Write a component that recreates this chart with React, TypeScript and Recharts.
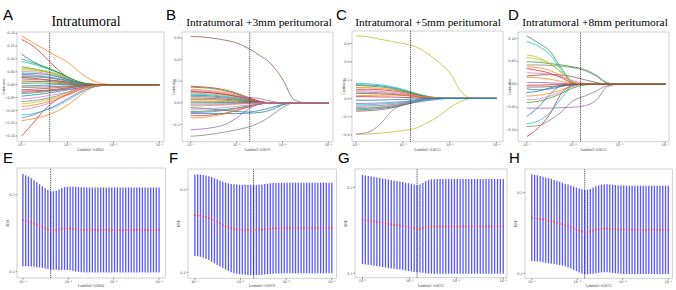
import React from "react";
import {
  LineChart,
  Line,
  ScatterChart,
  Scatter,
  ErrorBar,
  XAxis,
  YAxis,
  ReferenceLine,
  ReferenceArea,
} from "recharts";

// log10(lambda) grids
const PATH_LOG_LAMBDA = [-4, -3.75, -3.5, -3.25, -3, -2.75, -2.5, -2.25, -2, -1.75, -1.5, -1.25, -1];
const CV_LOG_LAMBDA = [
  -4.0, -3.939, -3.878, -3.816, -3.755, -3.694, -3.633, -3.571, -3.51, -3.449,
  -3.388, -3.327, -3.265, -3.204, -3.143, -3.082, -3.02, -2.959, -2.898, -2.837,
  -2.776, -2.714, -2.653, -2.592, -2.531, -2.469, -2.408, -2.347, -2.286, -2.224,
  -2.163, -2.102, -2.041, -1.98, -1.918, -1.857, -1.796, -1.735, -1.673, -1.612,
  -1.551, -1.49, -1.429, -1.367, -1.306, -1.245, -1.184, -1.122, -1.061, -1.0,
];
const DECADE_TICKS = [-4, -3, -2, -1];
const DECADE_LABELS = ["10⁻⁴", "10⁻³", "10⁻²", "10⁻¹"];

const LETTERS = ["A", "B", "C", "D", "E", "F", "G", "H"];
const TITLES = [
  "Intratumoral",
  "Intratumoral +3mm peritumoral",
  "Intratumoral +5mm peritumoral",
  "Intratumoral +8mm peritumoral",
];
const OPT_LOG_LAMBDA = [-3.388, -2.714, -2.837, -2.837];
const OPT_LABELS = ["Lambda(λ=0.0004)", "Lambda(λ=0.0019)", "Lambda(λ=0.0015)", "Lambda(λ=0.0015)"];

const TICKS_A = [-0.2, -0.15, -0.1, -0.05, 0, 0.05, 0.1, 0.15, 0.2];
const TICKS_B = [-0.2, 0, 0.2, 0.4, 0.6];
const TICKS_C = [-0.4, -0.2, 0, 0.2, 0.4, 0.6];
const TICKS_D = [-0.1, -0.05, 0, 0.05, 0.1];
const TICKS_MSE = [0.1, 0.2];

// coefficient paths, one row per feature, values at PATH_LOG_LAMBDA
const PATHS_A = [
  [0.119, 0.09, 0.068, 0.05, 0.025, 0.006, 0, 0, 0, 0, 0, 0, 0],
  [0.19, 0.163, 0.138, 0.112, 0.088, 0.05, 0.02, 0.004, 0, 0, 0, 0, 0],
  [0.07, 0.062, 0.052, 0.04, 0.022, 0.008, 0.001, 0, 0, 0, 0, 0, 0],
  [0.176, 0.15, 0.11, 0.065, 0.03, 0.01, 0.002, 0, 0, 0, 0, 0, 0],
  [0.04, 0.038, 0.032, 0.025, 0.016, 0.006, 0.001, 0, 0, 0, 0, 0, 0],
  [0.03, 0.03, 0.028, 0.022, 0.015, 0.006, 0, 0, 0, 0, 0, 0, 0],
  [0.052, 0.05, 0.045, 0.035, 0.02, 0.008, 0, 0, 0, 0, 0, 0, 0],
  [0.022, 0.02, 0.018, 0.014, 0.01, 0.004, 0, 0, 0, 0, 0, 0, 0],
  [0.063, 0.06, 0.055, 0.045, 0.028, 0.01, 0.002, 0, 0, 0, 0, 0, 0],
  [0.09, 0.08, 0.066, 0.052, 0.03, 0.01, 0.001, 0, 0, 0, 0, 0, 0],
  [-0.005, -0.004, -0.002, 0, 0.001, 0, 0, 0, 0, 0, 0, 0, 0],
  [-0.14, -0.133, -0.122, -0.105, -0.08, -0.045, -0.015, -0.002, 0, 0, 0, 0, 0],
  [-0.035, -0.032, -0.028, -0.022, -0.015, -0.008, -0.003, 0, 0, 0, 0, 0, 0],
  [-0.2, -0.15, -0.098, -0.06, -0.04, -0.022, -0.006, 0, 0, 0, 0, 0, 0],
  [-0.13, -0.118, -0.1, -0.08, -0.055, -0.03, -0.012, -0.003, 0, 0, 0, 0, 0],
  [-0.02, -0.018, -0.015, -0.012, -0.008, -0.004, -0.001, 0, 0, 0, 0, 0, 0],
  [-0.098, -0.09, -0.078, -0.06, -0.035, -0.015, -0.004, 0, 0, 0, 0, 0, 0],
  [-0.066, -0.062, -0.055, -0.045, -0.03, -0.015, -0.004, 0, 0, 0, 0, 0, 0],
  [0.058, 0.056, 0.05, 0.04, 0.025, 0.01, 0.002, 0, 0, 0, 0, 0, 0],
  [-0.118, -0.113, -0.1, -0.085, -0.06, -0.035, -0.01, 0, 0, 0, 0, 0, 0],
  [-0.045, -0.04, -0.035, -0.028, -0.02, -0.012, -0.006, -0.003, 0, 0, 0, 0, 0],
  [0.015, 0.014, 0.012, 0.01, 0.006, 0.002, 0, 0, 0, 0, 0, 0, 0],
  [0.005, 0.006, 0.006, 0.005, 0.003, 0.001, 0, 0, 0, 0, 0, 0, 0],
  [0.028, 0.025, 0.02, 0.016, 0.01, 0.004, 0.001, 0, 0, 0, 0, 0, 0],
  [-0.03, -0.028, -0.025, -0.022, -0.018, -0.014, -0.01, -0.004, 0, 0, 0, 0, 0],
  [-0.01, -0.01, -0.009, -0.007, -0.005, -0.002, 0, 0, 0, 0, 0, 0, 0],
  [-0.055, -0.052, -0.045, -0.038, -0.028, -0.015, -0.005, 0, 0, 0, 0, 0, 0],
  [0.01, 0.012, 0.012, 0.01, 0.006, 0.002, 0, 0, 0, 0, 0, 0, 0],
  [-0.075, -0.07, -0.062, -0.05, -0.035, -0.02, -0.008, -0.002, 0, 0, 0, 0, 0],
  [0.035, 0.034, 0.03, 0.024, 0.015, 0.006, 0.001, 0, 0, 0, 0, 0, 0],
  [0.045, 0.044, 0.04, 0.032, 0.02, 0.008, 0.001, 0, 0, 0, 0, 0, 0],
  [-0.085, -0.08, -0.07, -0.056, -0.038, -0.02, -0.006, 0, 0, 0, 0, 0, 0],
  [0.1, 0.085, 0.07, 0.052, 0.03, 0.012, 0.002, 0, 0, 0, 0, 0, 0],
  [-0.025, -0.024, -0.022, -0.018, -0.012, -0.006, -0.002, 0, 0, 0, 0, 0, 0],
];

const PATHS_B = [
  [0.07, 0.068, 0.062, 0.052, 0.038, 0.02, 0.004, 0, 0, 0, 0, 0, 0],
  [0.125, 0.12, 0.11, 0.095, 0.07, 0.04, 0.01, 0, 0, 0, 0, 0, 0],
  [0.145, 0.14, 0.13, 0.11, 0.08, 0.045, 0.012, 0, 0, 0, 0, 0, 0],
  [0.154, 0.148, 0.138, 0.12, 0.09, 0.05, 0.015, 0, 0, 0, 0, 0, 0],
  [0.1, 0.098, 0.09, 0.078, 0.06, 0.05, 0.04, 0.015, 0, 0, 0, 0, 0],
  [0.615, 0.61, 0.598, 0.58, 0.555, 0.505, 0.44, 0.36, 0.22, 0.03, 0, 0, 0],
  [0.115, 0.11, 0.1, 0.085, 0.062, 0.035, 0.01, 0, 0, 0, 0, 0, 0],
  [-0.31, -0.302, -0.288, -0.27, -0.25, -0.225, -0.185, -0.12, -0.045, 0, 0, 0, 0],
  [0.09, 0.087, 0.08, 0.068, 0.05, 0.028, 0.008, 0, 0, 0, 0, 0, 0],
  [0.08, 0.078, 0.07, 0.06, 0.045, 0.025, 0.006, 0, 0, 0, 0, 0, 0],
  [-0.045, -0.05, -0.06, -0.07, -0.08, -0.085, -0.07, -0.045, -0.015, 0, 0, 0, 0],
  [0.015, 0.015, 0.014, 0.012, 0.009, 0.005, 0.001, 0, 0, 0, 0, 0, 0],
  [-0.08, -0.078, -0.072, -0.062, -0.048, -0.03, -0.01, 0, 0, 0, 0, 0, 0],
  [0.045, 0.044, 0.04, 0.034, 0.025, 0.014, 0.003, 0, 0, 0, 0, 0, 0],
  [-0.25, -0.242, -0.228, -0.2, -0.14, -0.06, -0.01, 0, 0, 0, 0, 0, 0],
  [-0.12, -0.118, -0.11, -0.095, -0.07, -0.04, -0.012, 0, 0, 0, 0, 0, 0],
  [-0.06, -0.058, -0.052, -0.044, -0.033, -0.02, -0.006, 0, 0, 0, 0, 0, 0],
  [0.06, 0.058, 0.052, 0.044, 0.032, 0.018, 0.004, 0, 0, 0, 0, 0, 0],
  [-0.03, -0.028, -0.025, -0.02, -0.012, -0.004, 0, 0, 0, 0, 0, 0, 0],
  [-0.01, -0.01, -0.009, -0.008, -0.006, -0.003, -0.001, 0, 0, 0, 0, 0, 0],
  [-0.1, -0.1, -0.1, -0.1, -0.1, -0.095, -0.09, -0.065, -0.02, 0, 0, 0, 0],
  [-0.14, -0.135, -0.122, -0.1, -0.072, -0.04, -0.012, 0, 0, 0, 0, 0, 0],
  [0.03, 0.03, 0.028, 0.023, 0.017, 0.01, 0.002, 0, 0, 0, 0, 0, 0],
  [0.105, 0.1, 0.092, 0.078, 0.058, 0.032, 0.009, 0, 0, 0, 0, 0, 0],
  [-0.09, -0.088, -0.082, -0.07, -0.055, -0.034, -0.012, 0, 0, 0, 0, 0, 0],
  [0.005, 0.005, 0.004, 0.003, 0.002, 0.001, 0, 0, 0, 0, 0, 0, 0],
  [-0.02, -0.02, -0.018, -0.015, -0.01, -0.005, -0.001, 0, 0, 0, 0, 0, 0],
];

const PATHS_C = [
  [0.15, 0.146, 0.138, 0.12, 0.09, 0.055, 0.022, 0.004, 0, 0, 0, 0, 0],
  [0.12, 0.118, 0.11, 0.097, 0.075, 0.05, 0.025, 0.008, 0, 0, 0, 0, 0],
  [0.14, 0.136, 0.127, 0.11, 0.083, 0.05, 0.02, 0.003, 0, 0, 0, 0, 0],
  [0.1, 0.1, 0.095, 0.085, 0.065, 0.04, 0.015, 0.002, 0, 0, 0, 0, 0],
  [-0.39, -0.37, -0.29, -0.145, -0.062, -0.02, -0.005, 0, 0, 0, 0, 0, 0],
  [0.055, 0.054, 0.05, 0.044, 0.034, 0.021, 0.008, 0, 0, 0, 0, 0, 0],
  [0.085, 0.083, 0.078, 0.068, 0.052, 0.032, 0.012, 0.002, 0, 0, 0, 0, 0],
  [0.07, 0.068, 0.063, 0.055, 0.042, 0.026, 0.01, 0.001, 0, 0, 0, 0, 0],
  [0.684, 0.675, 0.648, 0.624, 0.6, 0.57, 0.5, 0.4, 0.28, 0.07, 0, 0, 0],
  [0.165, 0.16, 0.15, 0.13, 0.1, 0.06, 0.025, 0.005, 0, 0, 0, 0, 0],
  [-0.127, -0.12, -0.11, -0.095, -0.07, -0.045, -0.025, -0.01, 0, 0, 0, 0, 0],
  [0.03, 0.032, 0.035, 0.036, 0.034, 0.028, 0.016, 0.005, 0, 0, 0, 0, 0],
  [-0.11, -0.108, -0.1, -0.085, -0.062, -0.036, -0.012, 0, 0, 0, 0, 0, 0],
  [0.02, 0.019, 0.017, 0.015, 0.011, 0.007, 0.002, 0, 0, 0, 0, 0, 0],
  [-0.055, -0.054, -0.05, -0.044, -0.034, -0.021, -0.008, 0, 0, 0, 0, 0, 0],
  [-0.14, -0.135, -0.125, -0.105, -0.075, -0.04, -0.012, 0, 0, 0, 0, 0, 0],
  [-0.1, -0.098, -0.092, -0.08, -0.06, -0.036, -0.014, -0.002, 0, 0, 0, 0, 0],
  [-0.085, -0.083, -0.078, -0.068, -0.052, -0.032, -0.012, 0, 0, 0, 0, 0, 0],
  [-0.393, -0.39, -0.38, -0.368, -0.35, -0.33, -0.27, -0.2, -0.1, -0.03, 0, 0, 0],
  [-0.07, -0.068, -0.063, -0.055, -0.042, -0.026, -0.01, -0.002, 0, 0, 0, 0, 0],
  [-0.02, -0.02, -0.018, -0.015, -0.011, -0.007, -0.002, 0, 0, 0, 0, 0, 0],
];

const PATHS_D = [
  [-0.07, -0.05, -0.022, -0.003, 0, 0, 0, 0, 0, 0, 0, 0, 0],
  [0.038, 0.036, 0.03, 0.018, 0.003, 0, 0, 0, 0, 0, 0, 0, 0],
  [0.105, 0.09, 0.072, 0.035, 0.005, 0, 0, 0, 0, 0, 0, 0, 0],
  [-0.114, -0.095, -0.065, -0.02, -0.002, 0, 0, 0, 0, 0, 0, 0, 0],
  [-0.052, -0.052, -0.052, -0.051, -0.05, -0.047, -0.035, -0.005, 0, 0, 0, 0, 0],
  [0.018, 0.02, 0.021, 0.02, 0.016, 0.01, 0.004, 0, 0, 0, 0, 0, 0],
  [0.025, 0.024, 0.022, 0.016, 0.008, 0.002, 0, 0, 0, 0, 0, 0, 0],
  [-0.092, -0.09, -0.078, -0.06, -0.036, -0.026, -0.015, -0.003, 0, 0, 0, 0, 0],
  [0.064, 0.058, 0.045, 0.025, 0.004, 0, 0, 0, 0, 0, 0, 0, 0],
  [0.093, 0.083, 0.065, 0.03, 0.003, 0, 0, 0, 0, 0, 0, 0, 0],
  [-0.018, -0.015, -0.008, -0.002, 0, 0, 0, 0, 0, 0, 0, 0, 0],
  [-0.026, -0.024, -0.02, -0.012, -0.004, 0, 0, 0, 0, 0, 0, 0, 0],
  [0.049, 0.048, 0.045, 0.042, 0.038, 0.032, 0.02, 0.003, 0, 0, 0, 0, 0],
  [0.034, 0.03, 0.024, 0.014, 0.002, 0, 0, 0, 0, 0, 0, 0, 0],
  [0.004, 0.004, 0.003, 0.002, 0, 0, 0, 0, 0, 0, 0, 0, 0],
  [-0.006, -0.006, -0.005, -0.003, -0.001, 0, 0, 0, 0, 0, 0, 0, 0],
  [-0.034, -0.032, -0.026, -0.016, -0.004, 0, 0, 0, 0, 0, 0, 0, 0],
  [0.042, 0.042, 0.041, 0.039, 0.036, 0.03, 0.018, 0.002, 0, 0, 0, 0, 0],
  [0.058, 0.054, 0.044, 0.026, 0.006, 0, 0, 0, 0, 0, 0, 0, 0],
  [-0.086, -0.08, -0.062, -0.03, -0.003, 0, 0, 0, 0, 0, 0, 0, 0],
  [-0.01, -0.012, -0.01, -0.005, -0.001, 0, 0, 0, 0, 0, 0, 0, 0],
  [0.015, 0.014, 0.011, 0.006, 0.001, 0, 0, 0, 0, 0, 0, 0, 0],
  [-0.04, -0.037, -0.03, -0.02, -0.008, -0.002, 0, 0, 0, 0, 0, 0, 0],
  [-0.002, -0.002, -0.001, 0, 0, 0, 0, 0, 0, 0, 0, 0, 0],
];

// cross-validated MSE (mean and std) at CV_LOG_LAMBDA
const MSE_E = [
  0.1669, 0.1662, 0.1652, 0.164, 0.1626, 0.1611, 0.1596, 0.158, 0.1563, 0.1548,
  0.1535, 0.1536, 0.1538, 0.1545, 0.1555, 0.1562, 0.1563, 0.1561, 0.1557, 0.1552,
  0.1548, 0.1545, 0.1544, 0.1543, 0.1543, 0.1543, 0.1543, 0.1543, 0.1543, 0.1543,
  0.1543, 0.1543, 0.1543, 0.1543, 0.1543, 0.1543, 0.1543, 0.1543, 0.1543, 0.1543,
  0.1543, 0.1543, 0.1543, 0.1543, 0.1543, 0.1543, 0.1543, 0.1543, 0.1543, 0.1543,
];
const STD_E = [
  0.06, 0.0592, 0.0583, 0.0573, 0.0563, 0.0552, 0.0541, 0.053, 0.052, 0.0512,
  0.0509, 0.0509, 0.0513, 0.0522, 0.0532, 0.0538, 0.054, 0.0542, 0.0545, 0.0548,
  0.055, 0.0551, 0.0552, 0.0552, 0.0552, 0.0552, 0.0552, 0.0552, 0.0552, 0.0552,
  0.0552, 0.0552, 0.0552, 0.0552, 0.0552, 0.0552, 0.0552, 0.0552, 0.0552, 0.0552,
  0.0552, 0.0552, 0.0552, 0.0552, 0.0552, 0.0552, 0.0552, 0.0552, 0.0552, 0.0552,
];
const MSE_F = [
  0.1688, 0.1686, 0.1682, 0.1676, 0.1666, 0.1653, 0.1638, 0.1622, 0.1605, 0.1588,
  0.1572, 0.1557, 0.1544, 0.1533, 0.1525, 0.152, 0.1516, 0.1514, 0.1512, 0.1511,
  0.151, 0.1509, 0.151, 0.1511, 0.1514, 0.1518, 0.1522, 0.1526, 0.1529, 0.1531,
  0.1532, 0.1533, 0.1534, 0.1534, 0.1534, 0.1534, 0.1534, 0.1534, 0.1534, 0.1534,
  0.1534, 0.1534, 0.1534, 0.1534, 0.1534, 0.1534, 0.1534, 0.1534, 0.1534, 0.1534,
];
const STD_F = [
  0.0492, 0.0493, 0.0495, 0.0498, 0.0502, 0.0506, 0.051, 0.0513, 0.0516, 0.0518,
  0.052, 0.0524, 0.0528, 0.0532, 0.0536, 0.0538, 0.0539, 0.054, 0.0541, 0.0542,
  0.0542, 0.0542, 0.0542, 0.0543, 0.0544, 0.0545, 0.0545, 0.0546, 0.0546, 0.0546,
  0.0546, 0.0546, 0.0546, 0.0546, 0.0546, 0.0546, 0.0546, 0.0546, 0.0546, 0.0546,
  0.0546, 0.0546, 0.0546, 0.0546, 0.0546, 0.0546, 0.0546, 0.0546, 0.0546, 0.0546,
];
const MSE_G = [
  0.1626, 0.1621, 0.1615, 0.161, 0.1604, 0.1598, 0.1593, 0.1587, 0.1582, 0.1576,
  0.1571, 0.1566, 0.156, 0.1555, 0.1549, 0.1543, 0.1537, 0.1531, 0.1525, 0.1519,
  0.1521, 0.1527, 0.1535, 0.1541, 0.1544, 0.1545, 0.1546, 0.1546, 0.1546, 0.1546,
  0.1546, 0.1546, 0.1546, 0.1546, 0.1546, 0.1546, 0.1546, 0.1546, 0.1546, 0.1546,
  0.1546, 0.1546, 0.1546, 0.1546, 0.1546, 0.1546, 0.1546, 0.1546, 0.1546, 0.1546,
];
const STD_G = [
  0.0517, 0.0517, 0.0516, 0.0516, 0.0516, 0.0515, 0.0515, 0.0515, 0.0514, 0.0514,
  0.0514, 0.0513, 0.0513, 0.0512, 0.0512, 0.0511, 0.0511, 0.051, 0.0509, 0.0508,
  0.0512, 0.0522, 0.0535, 0.0544, 0.0548, 0.055, 0.055, 0.055, 0.055, 0.055,
  0.055, 0.055, 0.055, 0.055, 0.055, 0.055, 0.055, 0.055, 0.055, 0.055,
  0.055, 0.055, 0.055, 0.055, 0.055, 0.055, 0.055, 0.055, 0.055, 0.055,
];
const MSE_H = [
  0.169, 0.1686, 0.1681, 0.1675, 0.1668, 0.1661, 0.1653, 0.1645, 0.1637, 0.1628,
  0.1619, 0.1609, 0.1599, 0.1587, 0.1574, 0.156, 0.1546, 0.1532, 0.152, 0.151,
  0.1512, 0.152, 0.153, 0.154, 0.1548, 0.1554, 0.1557, 0.1558, 0.1556, 0.1552,
  0.1548, 0.1545, 0.1542, 0.154, 0.1539, 0.1539, 0.1539, 0.1539, 0.1539, 0.1539,
  0.1539, 0.1539, 0.1539, 0.1539, 0.1539, 0.1539, 0.1539, 0.1539, 0.1539, 0.1539,
];
const STD_H = [
  0.0538, 0.0537, 0.0535, 0.0533, 0.0531, 0.0529, 0.0527, 0.0524, 0.0522, 0.0519,
  0.0517, 0.0515, 0.0513, 0.0514, 0.0516, 0.0518, 0.0519, 0.0521, 0.0522, 0.0523,
  0.0526, 0.053, 0.0535, 0.0539, 0.0542, 0.0544, 0.0545, 0.0546, 0.0547, 0.0548,
  0.0548, 0.0548, 0.0548, 0.0548, 0.0548, 0.0548, 0.0548, 0.0548, 0.0548, 0.0548,
  0.0548, 0.0548, 0.0548, 0.0548, 0.0548, 0.0548, 0.0548, 0.0548, 0.0548, 0.0548,
];

const TAB10 = [
  "#1f77b4", "#ff7f0e", "#2ca02c", "#d62728", "#9467bd",
  "#8c564b", "#e377c2", "#7f7f7f", "#bcbd22", "#17becf",
];

type Box = { x0: number; y0: number; x1: number; y1: number };

const YW = 18; // y axis strip
const XH = 9; // x axis strip
const PAD = 4;
const TICK_FONT = { fontSize: 3.4, fill: "#444", fontFamily: "DejaVu Sans" };

const fmt = (digits: number) => (v: number) => v.toFixed(digits).replace("-", "−");
const decade = (v: number) => DECADE_LABELS[DECADE_TICKS.indexOf(v)] ?? "";

function frame(box: Box) {
  const left = box.x0 - YW;
  const top = box.y0 - PAD;
  return {
    left,
    top,
    width: box.x1 - left + 2,
    height: box.y1 - top + XH,
    margin: { top: PAD, right: 2, bottom: 0, left: 0 },
  };
}

function CoefPanel(props: {
  paths: number[][];
  box: Box;
  xDomain: [number, number];
  yDomain: [number, number];
  yTicks: number[];
  digits: number;
  opt: number;
  xLabel: string;
  labelOffset: number;
}) {
  const { paths, box, xDomain, yDomain, yTicks, digits, opt, xLabel, labelOffset } = props;
  const f = frame(box);
  const data = PATH_LOG_LAMBDA.map((x, i) => {
    const row: Record<string, number> = { x };
    paths.forEach((p, j) => (row["c" + j] = p[i]));
    return row;
  });
  return (
    <div style={{ position: "absolute", left: f.left, top: f.top }}>
      <LineChart width={f.width} height={f.height} data={data} margin={f.margin}>
        <XAxis
          dataKey="x"
          type="number"
          domain={xDomain}
          ticks={DECADE_TICKS}
          tickFormatter={decade}
          interval={0}
          height={XH}
          axisLine={false}
          tickSize={1.5}
          tickMargin={0.8}
          tick={TICK_FONT}
          stroke="#888"
          allowDataOverflow
          label={{ value: xLabel, position: "insideBottom", offset: 0, fontSize: 3.4, fill: "#444" }}
        />
        <YAxis
          type="number"
          domain={yDomain}
          ticks={yTicks}
          tickFormatter={fmt(digits)}
          interval={0}
          width={YW}
          axisLine={false}
          tickSize={1.5}
          tickMargin={0.8}
          tick={TICK_FONT}
          stroke="#888"
          allowDataOverflow
          label={{
            value: "Coefficients",
            angle: -90,
            position: "insideLeft",
            offset: labelOffset,
            fontSize: 3.4,
            fill: "#444",
            style: { textAnchor: "middle" },
          }}
        />
        <ReferenceArea
          x1={xDomain[0]}
          x2={xDomain[1]}
          y1={yDomain[0]}
          y2={yDomain[1]}
          fill="none"
          stroke="#c4c4c4"
          strokeWidth={0.8}
          ifOverflow="visible"
        />
        {paths.map((_, j) => (
          <Line
            key={j}
            dataKey={"c" + j}
            type="monotone"
            stroke={TAB10[j % 10]}
            strokeWidth={0.9}
            strokeOpacity={0.85}
            dot={false}
            activeDot={false}
            isAnimationActive={false}
          />
        ))}
        <ReferenceLine x={opt} stroke="#222" strokeWidth={0.8} strokeDasharray="1 0.8" />
      </LineChart>
    </div>
  );
}

function CvPanel(props: {
  mse: number[];
  std: number[];
  box: Box;
  xDomain: [number, number];
  yDomain: [number, number];
  opt: number;
  xLabel: string;
}) {
  const { mse, std, box, xDomain, yDomain, opt, xLabel } = props;
  const f = frame(box);
  const pts = CV_LOG_LAMBDA.map((x, i) => ({ x, y: mse[i], err: std[i] }));
  return (
    <div style={{ position: "absolute", left: f.left, top: f.top }}>
      <ScatterChart width={f.width} height={f.height} margin={f.margin}>
        <XAxis
          dataKey="x"
          type="number"
          domain={xDomain}
          ticks={DECADE_TICKS}
          tickFormatter={decade}
          interval={0}
          height={XH}
          axisLine={false}
          tickSize={1.5}
          tickMargin={0.8}
          tick={TICK_FONT}
          stroke="#888"
          allowDataOverflow
          label={{ value: xLabel, position: "insideBottom", offset: 0, fontSize: 3.4, fill: "#444" }}
        />
        <YAxis
          dataKey="y"
          type="number"
          domain={yDomain}
          ticks={TICKS_MSE}
          tickFormatter={fmt(1)}
          interval={0}
          width={YW}
          axisLine={false}
          tickSize={1.5}
          tickMargin={0.8}
          tick={TICK_FONT}
          stroke="#888"
          allowDataOverflow
          label={{
            value: "MSE",
            angle: -90,
            position: "insideLeft",
            offset: 9,
            fontSize: 3.4,
            fill: "#444",
            style: { textAnchor: "middle" },
          }}
        />
        <ReferenceArea
          x1={xDomain[0]}
          x2={xDomain[1]}
          y1={yDomain[0]}
          y2={yDomain[1]}
          fill="none"
          stroke="#c4c4c4"
          strokeWidth={0.8}
          ifOverflow="visible"
        />
        <Scatter
          data={pts}
          isAnimationActive={false}
          shape={(p: any) => <circle cx={p.cx} cy={p.cy} r={0.85} fill="#ff3b3b" />}
        >
          <ErrorBar
            dataKey="err"
            direction="y"
            width={0}
            stroke="#5757ff"
            strokeWidth={1.3}
            isAnimationActive={false}
          />
        </Scatter>
        <ReferenceLine x={opt} stroke="#222" strokeWidth={0.8} strokeDasharray="1 0.8" />
      </ScatterChart>
    </div>
  );
}

const TOP_BOXES: Box[] = [
  { x0: 17, y0: 32, x1: 164, y1: 141.7 },
  { x0: 182, y0: 32, x1: 333, y1: 141.7 },
  { x0: 352, y0: 31, x1: 503, y1: 141.7 },
  { x0: 518, y0: 32, x1: 669, y1: 141.7 },
];
const BOTTOM_BOXES: Box[] = [
  { x0: 17.3, y0: 168.3, x1: 165.7, y1: 278.3 },
  { x0: 188.3, y0: 169, x1: 336.7, y1: 278.3 },
  { x0: 355, y0: 169, x1: 507, y1: 277.7 },
  { x0: 525.3, y0: 169, x1: 672.7, y1: 278.3 },
];
const LETTER_POS = [
  [3, 20], [166, 20], [336, 20], [508, 20],
  [3, 163], [169, 163], [338, 163], [509, 163],
];
const TITLE_X = [86, 259, 428, 595];
const TITLE_SIZE = [13.8, 11.4, 11.4, 11.4];

export default function App() {
  return (
    <div
      style={{
        position: "absolute",
        left: 0,
        top: 0,
        width: 676,
        height: 290,
        background: "#fff",
        overflow: "hidden",
      }}
    >
      <CoefPanel paths={PATHS_A} box={TOP_BOXES[0]} xDomain={[-4.1, -0.9]} yDomain={[-0.222, 0.205]}
        yTicks={TICKS_A} digits={2} opt={OPT_LOG_LAMBDA[0]} xLabel={OPT_LABELS[0]} labelOffset={5} />
      <CoefPanel paths={PATHS_B} box={TOP_BOXES[1]} xDomain={[-4.19, -0.9]} yDomain={[-0.36, 0.656]}
        yTicks={TICKS_B} digits={1} opt={OPT_LOG_LAMBDA[1]} xLabel={OPT_LABELS[1]} labelOffset={10} />
      <CoefPanel paths={PATHS_C} box={TOP_BOXES[2]} xDomain={[-4.085, -0.866]} yDomain={[-0.473, 0.737]}
        yTicks={TICKS_C} digits={1} opt={OPT_LOG_LAMBDA[2]} xLabel={OPT_LABELS[2]} labelOffset={10} />
      <CoefPanel paths={PATHS_D} box={TOP_BOXES[3]} xDomain={[-4.19, -0.92]} yDomain={[-0.125, 0.1137]}
        yTicks={TICKS_D} digits={2} opt={OPT_LOG_LAMBDA[3]} xLabel={OPT_LABELS[3]} labelOffset={10} />

      <CvPanel mse={MSE_E} std={STD_E} box={BOTTOM_BOXES[0]} xDomain={[-4.13, -0.86]}
        yDomain={[0.0918, 0.2347]} opt={OPT_LOG_LAMBDA[0]} xLabel={OPT_LABELS[0]} />
      <CvPanel mse={MSE_F} std={STD_F} box={BOTTOM_BOXES[1]} xDomain={[-4.15, -0.9]}
        yDomain={[0.0928, 0.2245]} opt={OPT_LOG_LAMBDA[1]} xLabel={OPT_LABELS[1]} />
      <CvPanel mse={MSE_G} std={STD_G} box={BOTTOM_BOXES[2]} xDomain={[-4.16, -0.92]}
        yDomain={[0.0949, 0.2213]} opt={OPT_LOG_LAMBDA[2]} xLabel={OPT_LABELS[2]} />
      <CvPanel mse={MSE_H} std={STD_H} box={BOTTOM_BOXES[3]} xDomain={[-4.15, -0.91]}
        yDomain={[0.0938, 0.2294]} opt={OPT_LOG_LAMBDA[3]} xLabel={OPT_LABELS[3]} />

      <svg
        width={676}
        height={290}
        style={{ position: "absolute", left: 0, top: 0, pointerEvents: "none" }}
      >
        {LETTERS.map((l, i) => (
          <text
            key={l}
            x={LETTER_POS[i][0]}
            y={LETTER_POS[i][1]}
            fontSize={15}
            fontFamily="Liberation Sans, Arial, sans-serif"
            fill="#000"
          >
            {l}
          </text>
        ))}
        {TITLES.map((t, i) => (
          <text
            key={t}
            x={TITLE_X[i]}
            y={26}
            fontSize={TITLE_SIZE[i]}
            textAnchor="middle"
            fontFamily="Liberation Serif, Times New Roman, serif"
            fill="#000"
          >
            {t}
          </text>
        ))}
      </svg>
    </div>
  );
}
